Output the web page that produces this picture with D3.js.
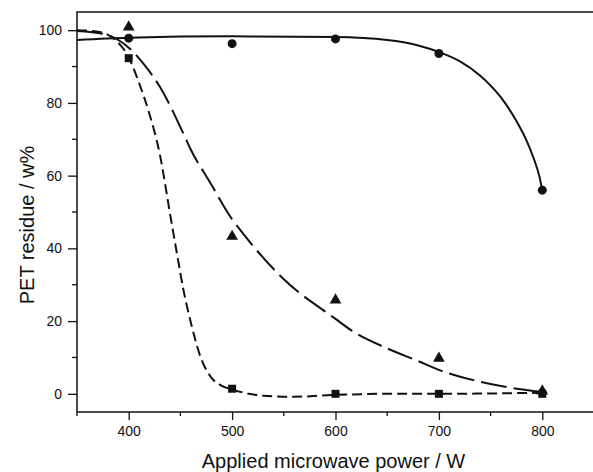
<!DOCTYPE html>
<html>
<head>
<meta charset="utf-8">
<script src="https://cdn.jsdelivr.net/npm/d3@7"></script>
<style>
  body { margin: 0; background: #fff; }
  text { font-family: "Liberation Sans", Arial, sans-serif; fill: #111; }
</style>
</head>
<body>
<div id="chart"></div>
<script>
// measured points
var powers = [400, 500, 600, 700, 800];
var circleVals = [97.8, 96.3, 97.6, 93.6, 56];
var triangleVals = [100.6, 43, 25.5, 9.5, 0.5];
var squareVals = [92.3, 1.4, 0, 0, 0];

// fitted curves
var solidX = [350, 400, 500, 600, 650, 680, 700, 720, 740, 760, 775, 785, 792, 797, 800];
var solidY = [97.3, 97.9, 98.3, 98.1, 97.3, 95.8, 94, 91.5, 87.5, 81.5, 75, 69.5, 64.5, 60, 56];
var longDashX = [350, 375, 390, 400, 415, 430, 453, 460, 479, 500, 508, 550, 600, 615, 650, 680, 700, 750, 800];
var longDashY = [99.8, 99, 97.3, 95.2, 90.5, 84.5, 71.5, 67.2, 58, 48, 45, 31.5, 20.6, 17.5, 12.5, 9, 6.6, 2.7, 0.5];
var shortDashX = [350, 370, 385, 400, 410, 420, 430, 440, 447, 453, 461, 469, 479, 490, 500, 530, 560, 600, 650, 700, 750, 800];
var shortDashY = [100, 99.6, 97.8, 92.5, 85.5, 77, 66, 49.5, 38, 28.5, 18.6, 10.5, 4.8, 2.2, 1.2, -0.5, -0.8, -0.3, 0, 0, 0.1, 0.3];

var xTicks = [400, 500, 600, 700, 800];
var xMinor = [350, 450, 550, 650, 750, 850];
var yTicks = [0, 20, 40, 60, 80, 100];
var yMinor = [10, 30, 50, 70, 90];

function zip(xs, ys) {
    return xs.map(function(d, i) { return {x: d, y: ys[i]}; });
}

function draw_chart() {
    var width = 593, height = 472;
    var left = 77, top = 12, right = 594, bottom = 412;

    var x = d3.scaleLinear().domain([350, 850]).range([left, right]);
    var y = d3.scaleLinear().domain([-5, 105]).range([bottom, top]);

    var svg = d3.select("#chart")
        .append("svg")
        .attr("width", width)
        .attr("height", height);

    // frame
    svg.append("rect")
        .attr("x", left).attr("y", top)
        .attr("width", right - left).attr("height", bottom - top)
        .attr("fill", "none")
        .attr("stroke", "#111")
        .attr("stroke-width", 1.5);

    var xAxis = d3.axisBottom(x).tickValues(xTicks).tickSize(8).tickPadding(6);
    var gx = svg.append("g")
        .attr("transform", "translate(0," + bottom + ")")
        .call(xAxis);
    gx.select(".domain").remove();
    gx.selectAll("line").attr("stroke", "#111").attr("stroke-width", 1.3);
    gx.selectAll("text").attr("font-size", 14);
    svg.append("g").selectAll("line")
        .data(xMinor).enter().append("line")
        .attr("x1", function(d) { return x(d); }).attr("x2", function(d) { return x(d); })
        .attr("y1", bottom).attr("y2", bottom + 4)
        .attr("stroke", "#111").attr("stroke-width", 1.3);

    var yAxis = d3.axisLeft(y).tickValues(yTicks).tickSize(9).tickPadding(6);
    var gy = svg.append("g")
        .attr("transform", "translate(" + left + ",0)")
        .call(yAxis);
    gy.select(".domain").remove();
    gy.selectAll("line").attr("stroke", "#111").attr("stroke-width", 1.3);
    gy.selectAll("text").attr("font-size", 14);
    svg.append("g").selectAll("line")
        .data(yMinor).enter().append("line")
        .attr("x1", left - 5).attr("x2", left)
        .attr("y1", function(d) { return y(d); }).attr("y2", function(d) { return y(d); })
        .attr("stroke", "#111").attr("stroke-width", 1.3);

    // axis titles
    svg.append("text")
        .attr("x", (left + right) / 2 - 2).attr("y", 468)
        .attr("text-anchor", "middle")
        .attr("font-size", 20)
        .text("Applied microwave power / W");
    svg.append("text")
        .attr("transform", "translate(34,225) rotate(-90)")
        .attr("text-anchor", "middle")
        .attr("font-size", 20)
        .text("PET residue / w%");

    var line = d3.line()
        .x(function(d) { return x(d.x); })
        .y(function(d) { return y(d.y); })
        .curve(d3.curveMonotoneX);

    var plot = svg.append("g");

    plot.append("path")
        .datum(zip(solidX, solidY))
        .attr("d", line)
        .attr("fill", "none").attr("stroke", "#111").attr("stroke-width", 2);
    plot.append("path")
        .datum(zip(longDashX, longDashY))
        .attr("d", line)
        .attr("fill", "none").attr("stroke", "#111").attr("stroke-width", 2)
        .attr("stroke-dasharray", "26,7");
    plot.append("path")
        .datum(zip(shortDashX, shortDashY))
        .attr("d", line)
        .attr("fill", "none").attr("stroke", "#111").attr("stroke-width", 2)
        .attr("stroke-dasharray", "10,5");

    plot.selectAll(".sq")
        .data(zip(powers, squareVals)).enter().append("rect")
        .attr("x", function(d) { return x(d.x) - 4; })
        .attr("y", function(d) { return y(d.y) - 4; })
        .attr("width", 8).attr("height", 8)
        .attr("fill", "#111");

    var tri = d3.symbol().type(d3.symbolTriangle).size(60);
    plot.selectAll(".tri")
        .data(zip(powers, triangleVals)).enter().append("path")
        .attr("d", tri)
        .attr("transform", function(d) { return "translate(" + x(d.x) + "," + (y(d.y) - 1) + ")"; })
        .attr("fill", "#111");

    plot.selectAll(".circ")
        .data(zip(powers, circleVals)).enter().append("circle")
        .attr("cx", function(d) { return x(d.x); })
        .attr("cy", function(d) { return y(d.y); })
        .attr("r", 4.5)
        .attr("fill", "#111");
}

draw_chart();
</script>
</body>
</html>
